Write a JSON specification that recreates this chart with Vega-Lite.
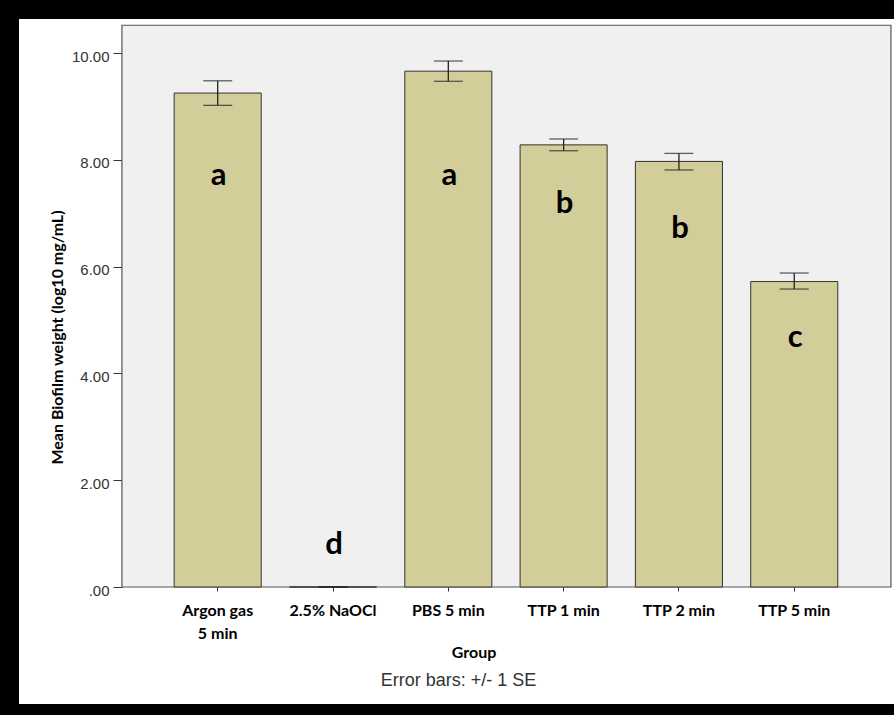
{
  "$schema": "https://vega.github.io/schema/vega-lite/v6.json",
  "width": 875,
  "height": 685,
  "autosize": {"type": "none"},
  "padding": {"left": 19, "top": 19, "right": 0, "bottom": 11},
  "background": "black",
  "config": {"view": {"fill": "white", "stroke": null}},
  "title": {
    "text": "Error bars: +/- 1 SE",
    "orient": "bottom",
    "anchor": "middle",
    "frame": "group",
    "offset": -32,
    "dx": 2,
    "font": "Liberation Sans",
    "fontSize": 18,
    "fontWeight": "normal",
    "color": "#333333"
  },
  "data": {
    "values": [
      {"group": "Argon gas 5 min", "mean": 9.25, "lo": 9.02, "hi": 9.48, "letter": "a", "letter_y": 7.53},
      {"group": "2.5% NaOCl", "mean": 0, "lo": 0, "hi": 0, "letter": "d", "letter_y": 0.61},
      {"group": "PBS 5 min", "mean": 9.66, "lo": 9.47, "hi": 9.85, "letter": "a", "letter_y": 7.53},
      {"group": "TTP 1 min", "mean": 8.28, "lo": 8.17, "hi": 8.39, "letter": "b", "letter_y": 7.01},
      {"group": "TTP 2 min", "mean": 7.97, "lo": 7.81, "hi": 8.12, "letter": "b", "letter_y": 6.54},
      {"group": "TTP 5 min", "mean": 5.72, "lo": 5.58, "hi": 5.88, "letter": "c", "letter_y": 4.5}
    ]
  },
  "layer": [
    {
      "data": {"values": [{"region": "plot"}]},
      "mark": {"type": "rect", "fill": "#f0f0f0", "stroke": "#555555", "strokeWidth": 1.2},
      "encoding": {
        "x": {"datum": "Argon gas 5 min", "type": "nominal", "bandPosition": -0.6},
        "x2": {"datum": "TTP 5 min", "bandPosition": 1.611},
        "y": {"datum": 0, "type": "quantitative"},
        "y2": {"datum": 10.52}
      }
    },
    {
      "mark": {"type": "bar", "fill": "#d3ce99", "stroke": "#333333", "strokeWidth": 1},
      "encoding": {
        "x": {
          "field": "group",
          "type": "nominal",
          "scale": {
            "domain": ["Argon gas 5 min", "2.5% NaOCl", "PBS 5 min", "TTP 1 min", "TTP 2 min", "TTP 5 min"],
            "paddingInner": 0.245,
            "paddingOuter": 0.9167,
            "align": 0.734
          },
          "axis": {
            "orient": "bottom",
            "offset": -117,
            "domain": false,
            "grid": false,
            "ticks": true,
            "tickSize": 4,
            "tickColor": "#333333",
            "labelAngle": 0,
            "labelAlign": "center",
            "labelPadding": 19,
            "labelFont": "Lato",
            "labelFontWeight": "bold",
            "labelFontSize": 16,
            "labelColor": "black",
            "labelLineHeight": 23,
            "labelLimit": 200,
            "labelExpr": "datum.value == 'Argon gas 5 min' ? ['Argon gas', '5 min'] : datum.label",
            "title": "Group",
            "titleFont": "Lato",
            "titleFontWeight": "bold",
            "titleFontSize": 16,
            "titleColor": "black",
            "titleAlign": "center",
            "titleBaseline": "alphabetic",
            "titleX": 454.5,
            "titleY": 70
          }
        },
        "y": {
          "field": "mean",
          "type": "quantitative",
          "scale": {"domain": [-2.191, 10.637], "nice": false, "zero": false},
          "axis": {
            "orient": "left",
            "offset": -103,
            "domain": false,
            "grid": false,
            "values": [0, 2, 4, 6, 8, 10],
            "tickSize": 9,
            "tickColor": "#333333",
            "labelPadding": 4,
            "labelOffset": 3,
            "labelFont": "Liberation Sans",
            "labelFontSize": 15,
            "labelColor": "#333333",
            "labelExpr": "datum.value == 0 ? '.00' : format(datum.value, '.2f')",
            "title": "Mean Biofilm weight (log10 mg/mL)",
            "titleFont": "Lato",
            "titleFontWeight": "bold",
            "titleFontSize": 16,
            "titleColor": "black",
            "titleAlign": "center",
            "titleBaseline": "alphabetic",
            "titleAngle": -90,
            "titleX": -60,
            "titleY": 318
          }
        },
        "y2": {"datum": 0}
      }
    },
    {
      "mark": {"type": "rule", "color": "#222222", "strokeWidth": 1.3},
      "encoding": {
        "x": {"field": "group", "type": "nominal"},
        "y": {"field": "lo", "type": "quantitative"},
        "y2": {"field": "hi"}
      }
    },
    {
      "mark": {"type": "tick", "orient": "horizontal", "color": "#222222", "size": 29, "thickness": 1.3},
      "encoding": {
        "x": {"field": "group", "type": "nominal"},
        "y": {"field": "lo", "type": "quantitative"}
      }
    },
    {
      "mark": {"type": "tick", "orient": "horizontal", "color": "#222222", "size": 29, "thickness": 1.3},
      "encoding": {
        "x": {"field": "group", "type": "nominal"},
        "y": {"field": "hi", "type": "quantitative"}
      }
    },
    {
      "mark": {"type": "text", "font": "Lato", "fontWeight": "bold", "fontSize": 31, "baseline": "alphabetic", "align": "center", "dx": 1, "color": "black"},
      "encoding": {
        "x": {"field": "group", "type": "nominal"},
        "y": {"field": "letter_y", "type": "quantitative"},
        "text": {"field": "letter"}
      }
    }
  ]
}
